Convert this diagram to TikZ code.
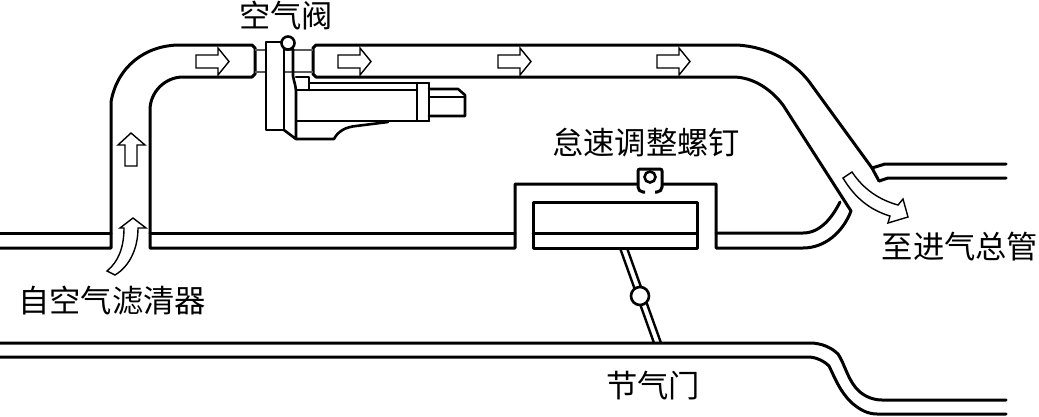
\documentclass[tikz,border=0pt]{standalone}
\usepackage{fontspec}
\setmainfont{Noto Sans CJK SC}
\tikzset{
  pipe/.style={line width=3pt,line join=round,line cap=round},
  valveline/.style={line width=2.6pt,line join=round,line cap=round},
  thin pipe/.style={line width=2pt,draw=black!65},
  flow/.style={draw,line width=1.4pt,fill=white,line join=miter},
  lbl/.style={inner sep=0pt,font=\fontsize{31.3}{32}\selectfont},
}
\begin{document}
\begin{tikzpicture}[x=1pt,y=-1pt]
\useasboundingbox (0,0) rectangle (1039,416);
% left / inlet pipe
\draw[pipe] (0,233) -- (111,233);
\draw[pipe] (0,248) -- (111,248) -- (111,102) .. controls (117,67) and (145,45) .. (180,45) -- (252,45) -- (255,48) -- (255,74) -- (252,77) -- (183,77) .. controls (165,77) and (150,92) .. (150,110) -- (150,248) -- (515,248) -- (515,184) -- (716,184) -- (716,248) -- (803,248) .. controls (825,248) and (843,232) .. (851,211) -- (783,105) .. controls (770,88) and (752,77) .. (733,77) -- (316,77) -- (313,74) -- (313,48) -- (316,45) -- (737,45) .. controls (770,47) and (797,63) .. (813,87) -- (872,168) -- (885,164) -- (1006,164);
\draw[pipe] (879,181) -- (888,178) -- (1006,178);
\draw[pipe] (872,168) -- (879,181);
\draw[pipe] (150,233) -- (515,233);
\draw[pipe] (716,233) -- (803,233) .. controls (820,233) and (832,218) .. (840,202);
% throttle box
\draw[pipe] (533,202) rectangle (697,248);
\draw[pipe] (533,233) -- (697,233);
% throttle rod
\draw[line width=2.4pt] (620,248) -- (654,343);
\draw[line width=2.4pt] (627,248) -- (661,343);
\node[circle,draw,line width=2.6pt,fill=white,minimum size=18pt,inner sep=0pt] (pivot) at (640,296) {};
% lower pipe
\draw[pipe] (0,343) -- (810,343) .. controls (822,343) and (832,348) .. (838,354) .. controls (845,364) and (848,382) .. (860,392) .. controls (866,397) and (874,400) .. (882,400) -- (1006,400);
\draw[pipe] (0,357) -- (808,357) .. controls (816,357) and (824,361) .. (829,366) .. controls (835,378) and (840,392) .. (852,403) .. controls (860,410) and (868,414) .. (877,414) -- (1006,414);
% idle screw
\fill[white] (638,169) rectangle (662,192);
\draw[line width=3pt,rounded corners=2pt] (645,192) -- (641,192) -- (638,189) -- (638,169) -- (662,169) -- (662,189) -- (659,192) -- (655,192);
\node[circle,draw,line width=2.6pt,fill=white,minimum size=11pt,inner sep=0pt] (screw) at (650,177) {};
% air valve
\draw[thin pipe] (255,50) -- (313,50);
\draw[thin pipe] (255,72) -- (313,72);
\draw[valveline,fill=white] (266,42) -- (284,42) -- (284,130) -- (266,130) -- cycle;
\draw[valveline] (293,49) -- (293,76) .. controls (294,82) and (296,86) .. (296,92) -- (296,139) -- (284,130);
\draw[valveline] (296,77) -- (309,77) -- (309,90);
\draw[valveline] (309,83) -- (429,83);
\draw[valveline] (296,90) -- (417,90);
\draw[valveline] (296,121) -- (429,121);
\draw[valveline] (417,83) rectangle (429,121);
\draw[valveline] (429,89) -- (458,89) -- (465,95) -- (465,116) -- (429,116);
\draw[valveline] (429,97) -- (465,97);
\draw[valveline] (296,139) -- (334,139) .. controls (338,131) and (346,127) .. (356,126) -- (388,122);
\node[circle,draw,line width=2.6pt,fill=white,minimum size=13pt,inner sep=0pt] (valve) at (288,43) {};
% flow arrows
\foreach \ax in {196,338,498,657}
  \draw[flow] (\ax,55) -- (\ax+22,55) -- (\ax+22,48) -- (\ax+33,61.5) -- (\ax+22,75) -- (\ax+22,68) -- (\ax,68) -- cycle;
\draw[flow] (125,166) -- (125,145) -- (118,145) -- (131,133) -- (145,145) -- (137,145) -- (137,166) -- cycle;
\draw[flow] (107,271) .. controls (118,262) and (124,248) .. (124,228) -- (120,228) -- (133,218) -- (146,228) -- (138,228) .. controls (138,248) and (130,266) .. (115,275) -- cycle;
\draw[flow] (843,178) .. controls (855,198) and (870,210) .. (890,216) -- (888,223) -- (908,217) -- (903,199) -- (898,205) .. controls (880,200) and (864,190) .. (852,172) -- cycle;
% labels
\node[lbl] (t1) at (286,16) {空气阀};
\node[lbl] (t2) at (646,143) {怠速调整螺钉};
\node[lbl] (t3) at (960,247) {至进气总管};
\node[lbl] (t4) at (112,301) {自空气滤清器};
\node[lbl] (t5) at (653,386) {节气门};
\end{tikzpicture}
\end{document}
